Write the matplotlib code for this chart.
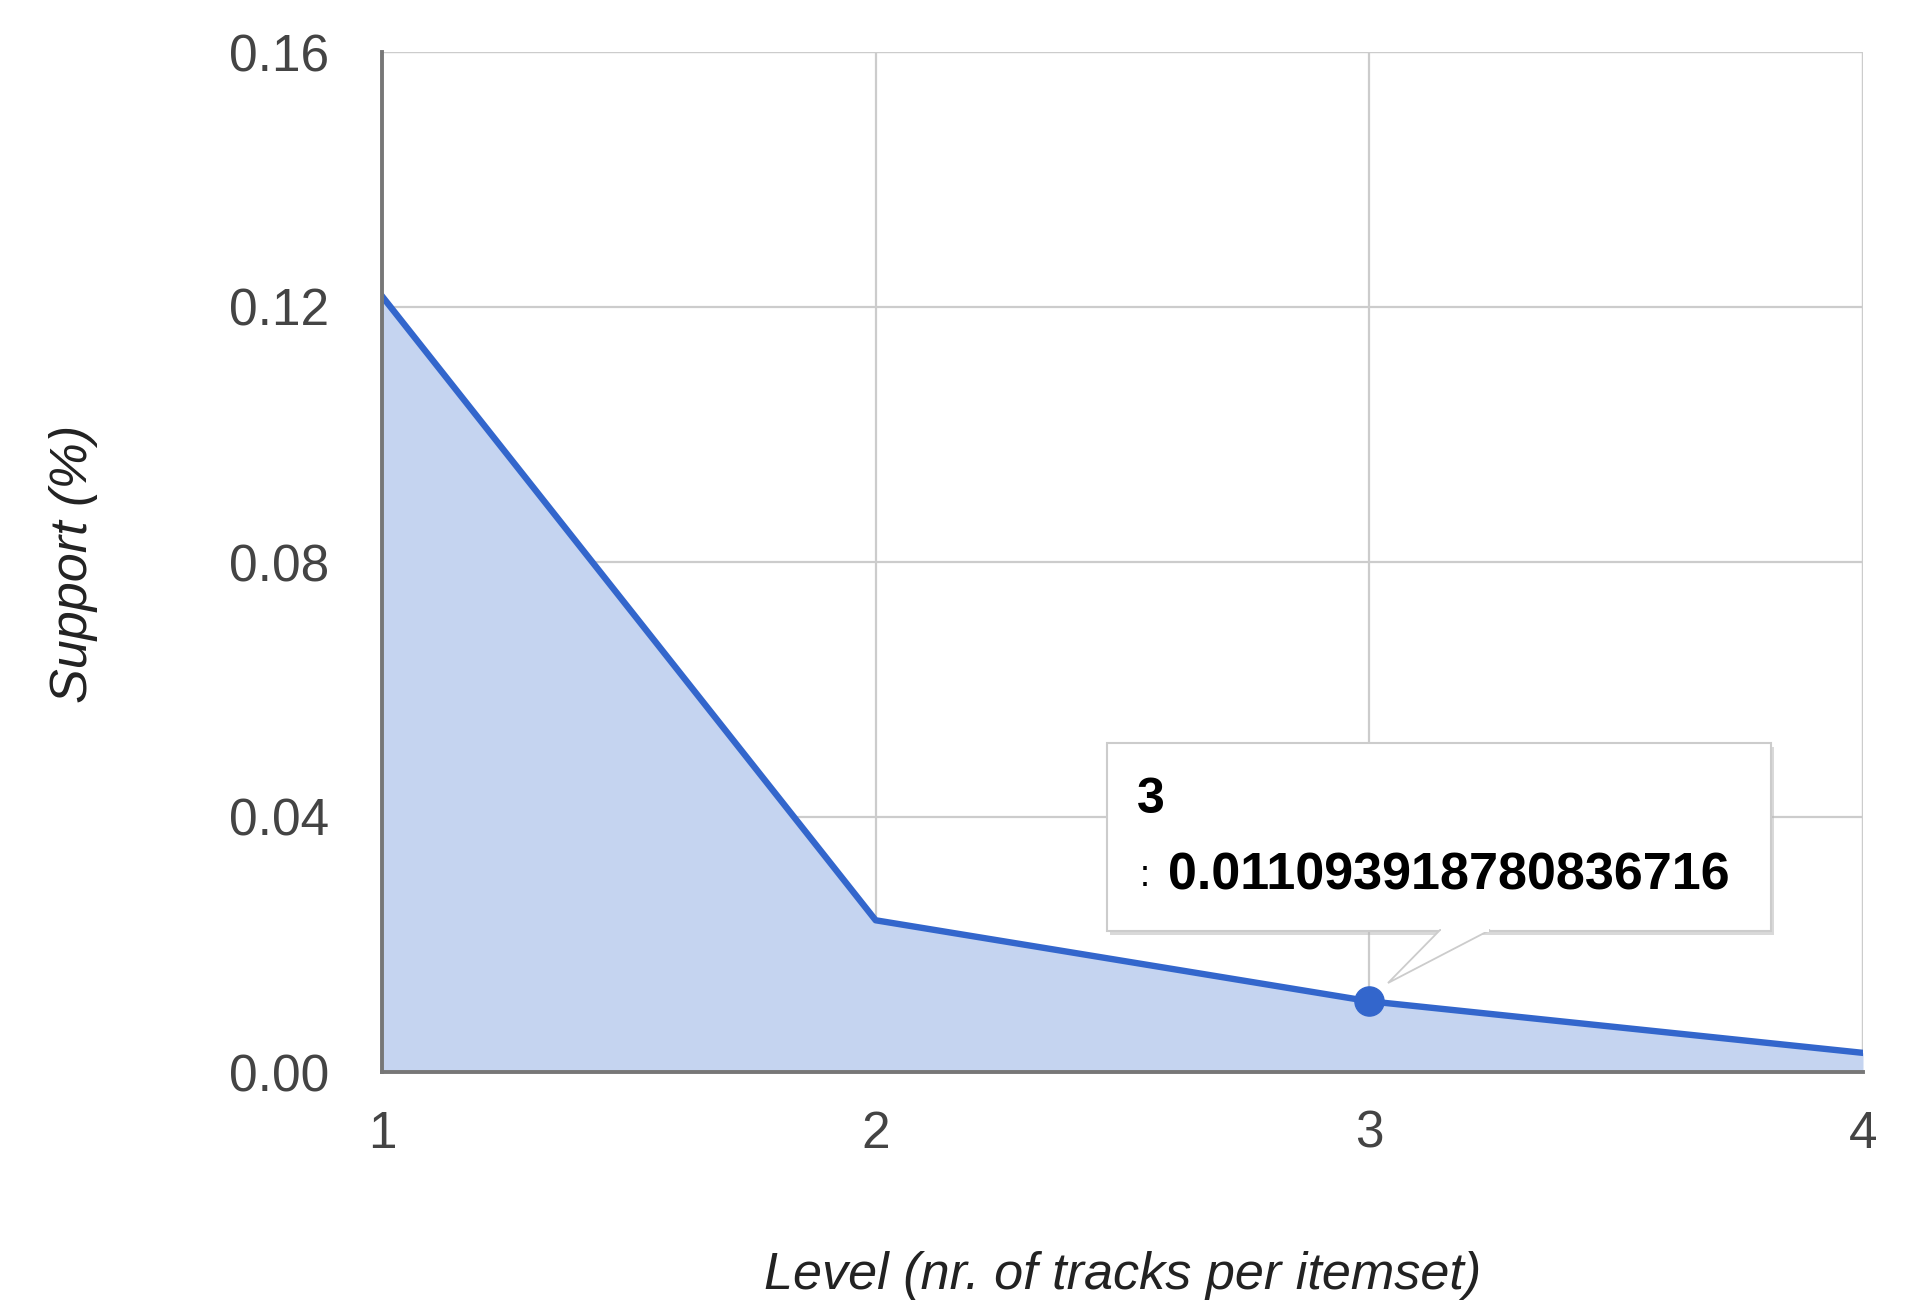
import matplotlib
matplotlib.use("Agg")
import matplotlib.pyplot as plt
from matplotlib.patches import Polygon, Rectangle

levels = [1, 2, 3, 4]
support = [0.1217, 0.0238, 0.011093918780836716, 0.0030]
y_ticks = [0.00, 0.04, 0.08, 0.12, 0.16]
y_tick_labels = ["0.00", "0.04", "0.08", "0.12", "0.16"]
x_label = "Level (nr. of tracks per itemset)"
y_label = "Support (%)"
tooltip_index = 2

W, H = 1933, 1303
DPI = 100
plt.rcParams['font.family'] = ['Liberation Sans', 'DejaVu Sans']
fig = plt.figure(figsize=(W / DPI, H / DPI), dpi=DPI)

def fx(x):
    return x / W

def fy(y):
    return 1 - y / H

L, R, T, B = 382, 1863, 52, 1072
ax = fig.add_axes([fx(L), fy(B), fx(R) - fx(L), fy(T) - fy(B)])

line_color = "#3366cc"
ax.fill_between(levels, support, 0, color="#c5d4f0", zorder=2, linewidth=0)
ax.plot(levels, support, color=line_color, linewidth=4.6, zorder=3, solid_joinstyle="round")
ax.plot([levels[tooltip_index]], [support[tooltip_index]], "o", color=line_color,
        markersize=21, zorder=4)

ax.set_xlim(1, 4)
ax.set_ylim(0, 0.16)
ax.set_xticks(levels)
ax.set_xticklabels([str(v) for v in levels])
ax.set_yticks(y_ticks)
ax.set_yticklabels(y_tick_labels)
ax.grid(True, color="#cccccc", linewidth=1.6, zorder=1)
ax.set_axisbelow(True)
for s in ["top", "right"]:
    ax.spines[s].set_visible(False)
for s in ["left", "bottom"]:
    ax.spines[s].set_color("#777777")
    ax.spines[s].set_linewidth(2.8)
    ax.spines[s].set_zorder(5)
ax.axvline(4, color="#cccccc", linewidth=1.6, zorder=1.5)
ax.axhline(0.16, color="#cccccc", linewidth=1.6, zorder=1.5)

ax.tick_params(axis="both", length=0, labelsize=37, labelcolor="#444444")
ax.tick_params(axis="y", pad=38)
ax.tick_params(axis="x", pad=27)

fig.text(fx(1123), fy(1276), x_label, ha="center", va="center", fontsize=37.5,
         style="italic", color="#222222")
fig.text(fx(74), fy(564), y_label, ha="center", va="center", fontsize=37.5,
         style="italic", color="#222222", rotation=90)

# tooltip
bx0, bx1, by0, by1 = 1107, 1771, 743, 931
shadow = Rectangle((fx(bx0 + 3), fy(by1 + 4)), fx(bx1) - fx(bx0), fy(by0) - fy(by1),
                   transform=fig.transFigure, facecolor="#bbbbbb", edgecolor="none",
                   alpha=0.55, zorder=9)
fig.patches.append(shadow)
box = Rectangle((fx(bx0), fy(by1)), fx(bx1) - fx(bx0), fy(by0) - fy(by1),
                transform=fig.transFigure, facecolor="white", edgecolor="#cccccc",
                linewidth=1.5, zorder=10)
fig.patches.append(box)
tip = Polygon([(fx(1440), fy(by1 - 1)), (fx(1490), fy(by1 - 1)), (fx(1388), fy(983))],
              closed=True, transform=fig.transFigure, facecolor="white",
              edgecolor="#cccccc", linewidth=1.3, zorder=10.5)
fig.patches.append(tip)
cover = Rectangle((fx(1441), fy(by1 + 1)), fx(1489) - fx(1441), fy(by1 - 3) - fy(by1 + 1),
                  transform=fig.transFigure, facecolor="white", edgecolor="none", zorder=10.6)
fig.patches.append(cover)

fig.text(fx(1137), fy(800), str(levels[tooltip_index]), ha="left", va="center",
         fontsize=36, fontweight="bold", color="black", zorder=11)
fig.text(fx(1140), fy(877), ":", ha="left", va="center",
         fontsize=26, color="black", zorder=11)
fig.text(fx(1168), fy(876), repr(support[tooltip_index]), ha="left", va="center",
         fontsize=37.5, fontweight="bold", color="black", zorder=11)

fig.savefig("out.png", dpi=DPI)
